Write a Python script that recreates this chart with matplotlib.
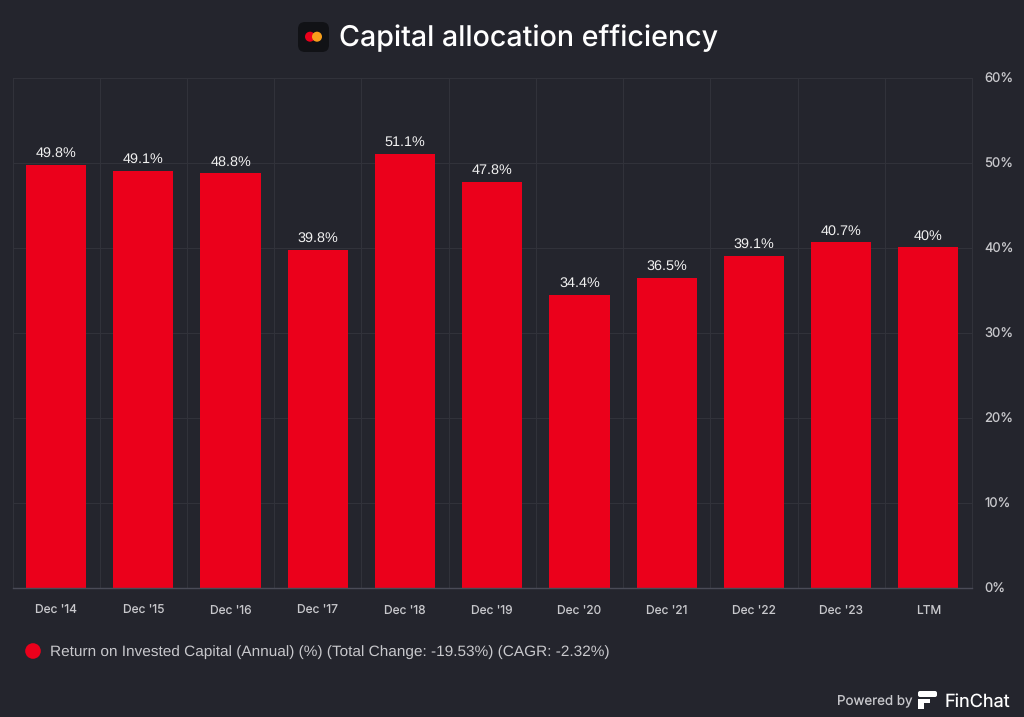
#!/usr/bin/env python3
"""Capital allocation efficiency: ROIC bar chart on dark background."""
import matplotlib
matplotlib.use("Agg")
import matplotlib.pyplot as plt
from matplotlib.patches import Circle, FancyBboxPatch, Rectangle

plt.rcParams.update({"text.hinting": "no_hinting"})

BG = "#24252D"; RED = "#EB001B"; GRID = "#31323A"; AXIS = "#4A4B57"; TICK = "#C8C8CC"

periods = ["Dec '14", "Dec '15", "Dec '16", "Dec '17", "Dec '18", "Dec '19",
           "Dec '20", "Dec '21", "Dec '22", "Dec '23", "LTM"]
roic = [49.8, 49.1, 48.8, 39.8, 51.1, 47.8, 34.5, 36.5, 39.1, 40.7, 40.1]
bar_labels = ["49.8%", "49.1%", "48.8%", "39.8%", "51.1%", "47.8%",
              "34.4%", "36.5%", "39.1%", "40.7%", "40%"]
y_ticks = [0, 10, 20, 30, 40, 50, 60]

W, H = 1024, 717
fig = plt.figure(figsize=(W / 100, H / 100), dpi=100, facecolor=BG)
ax = fig.add_axes([12.5 / W, 1 - 588 / H, 959.5 / W, 510 / H], facecolor=BG)

xs = list(range(len(periods)))
ax.bar(xs, roic, width=0.69, color=RED, zorder=3)
for x, v, s in zip(xs, roic, bar_labels):
    ax.annotate(s, (x, v), xytext=(0, 3.4), textcoords="offset points", ha="center", va="bottom",
                color="#F0F0F0", fontsize=10.4, family="Liberation Sans", zorder=4)

ax.set_xlim(-0.5, len(periods) - 0.5)
ax.set_ylim(0, 60)
ax.yaxis.tick_right()
ax.set_yticks(y_ticks)
ax.set_yticklabels([f"{t}%" for t in y_ticks], color=TICK, fontsize=9.4, family="Inter",
                   va="center_baseline")
ax.set_xticks(xs)
ax.set_xticklabels(periods, color=TICK, fontsize=8.6, family="Inter", va="baseline")
ax.tick_params(axis="both", length=0)
ax.tick_params(axis="x", pad=18.5)
ax.tick_params(axis="y", pad=9)

# gridlines sit on the band edges, not the band centres
ax.set_xticks([x - 0.5 for x in xs] + [len(xs) - 0.5], minor=True)
ax.tick_params(axis="x", which="minor", length=0)
ax.grid(which="minor", axis="x", color=GRID, lw=0.72, zorder=0)
ax.grid(which="major", axis="y", color=GRID, lw=0.72, zorder=0)
for side in ["top", "left", "right"]:
    ax.spines[side].set_color(GRID)
    ax.spines[side].set_linewidth(0.72)
ax.spines["bottom"].set_color(AXIS)
ax.spines["bottom"].set_linewidth(1.0)
ax.spines["bottom"].set_zorder(5)

# overlay in pixel coordinates for the title, legend and footer
ov = fig.add_axes([0, 0, 1, 1], facecolor="none")
ov.set_xlim(0, W); ov.set_ylim(H, 0); ov.axis("off")

ov.add_patch(FancyBboxPatch((298, 22), 31, 30, boxstyle="round,pad=0,rounding_size=7",
                            fc="#111216", ec="none"))
ov.add_patch(Circle((310, 36.7), 5, fc="#EB001B", ec="none"))
ov.add_patch(Circle((317, 36.7), 5, fc="#F79E1B", ec="none"))
ov.text(339, 38.5, "Capital allocation efficiency", color="white", fontsize=20.6,
        family="Inter", fontweight="medium", va="center", ha="left")

ov.add_patch(Circle((33, 651), 7.8, fc=RED, ec="none"))
ov.text(50, 652, "Return on Invested Capital (Annual) (%) (Total Change: -19.53%) (CAGR: -2.32%)",
        color=TICK, fontsize=11.04, family="Liberation Sans", va="center", ha="left")

ov.text(837, 701.5, "Powered by", color=TICK, fontsize=9.6, family="Inter", va="center", ha="left")
ov.add_patch(FancyBboxPatch((918, 691), 19, 6, boxstyle="round,pad=0,rounding_size=2", fc="white", ec="none"))
ov.add_patch(Rectangle((918, 699), 12, 4, fc="white", ec="none"))
ov.add_patch(Rectangle((918, 703), 6, 6, fc="white", ec="none"))
ov.text(945, 701.5, "FinChat", color="white", fontsize=13, family="Inter", va="center", ha="left")

fig.savefig("out.png", dpi=100, facecolor=BG)
